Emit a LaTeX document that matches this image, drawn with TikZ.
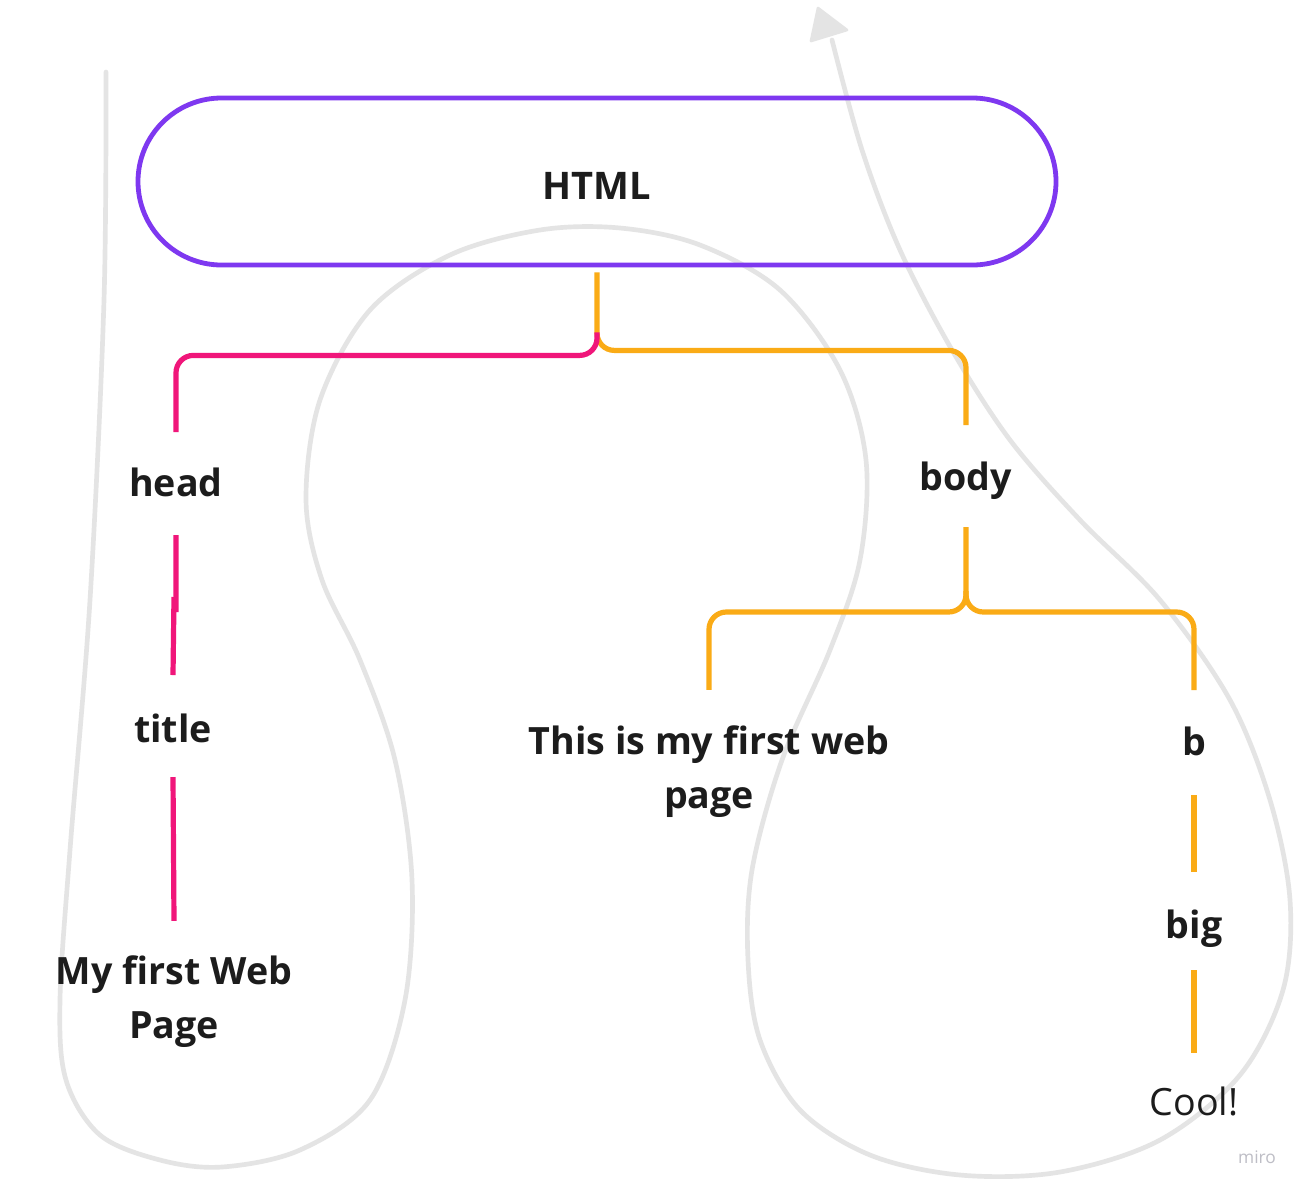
\documentclass[tikz,border=0pt]{standalone}
\usepackage{fontspec}
\setmainfont{Open Sans}
\usetikzlibrary{calc,shapes.misc}
\definecolor{pillpurple}{RGB}{126,56,240}
\definecolor{linkpink}{RGB}{240,22,122}
\definecolor{linkyellow}{RGB}{250,171,22}
\definecolor{sketchgrey}{RGB}{228,228,228}
\definecolor{inkdark}{RGB}{28,28,28}
\definecolor{wmgrey}{RGB}{190,190,198}
\tikzset{
  x=0.75pt, y=-0.75pt,
  lbl/.style={inner sep=0pt, text=inkdark, font=\fontsize{28.2}{40.5}\selectfont\bfseries,
              text height=0.75em, text depth=0.25em},
  mlbl/.style={inner sep=0pt, text=inkdark, font=\fontsize{28.2}{40.5}\selectfont\bfseries, align=center},
  pillbox/.style={rounded rectangle, draw=pillpurple, line width=3.6pt,
              minimum width=688.5pt, minimum height=125.25pt, inner sep=0pt,
              text=inkdark, font=\fontsize{28.5}{34}\selectfont\bfseries,
              text height=2.7em, text depth=0em},
  pinkline/.style={draw=linkpink, line width=3.9pt, rounded corners=13pt},
  yelline/.style={draw=linkyellow, line width=3.9pt, rounded corners=13pt},
  freehand/.style={draw=sketchgrey, line width=3.5pt, line cap=round, line join=round},
}
\begin{document}
\begin{tikzpicture}
\useasboundingbox (0,0) rectangle (1308,1193);
\fill[white] (0,0) rectangle (1308,1193);

% freehand background stroke
\draw[freehand] plot[smooth, tension=0.55] coordinates {
  (106,72) (104,300) (90,600) (70,850) (60,1000) (66,1080) (100,1135) (160,1160)
  (222,1167) (300,1150) (370,1100) (405,1000) (412,880) (395,760) (360,660)
  (322,580) (306,500) (320,400) (370,310) (450,255) (540,230) (620,228)
  (700,245) (780,290) (840,370) (866,460) (860,560) (830,650) (782,760)
  (752,870) (748,960) (760,1040) (800,1110) (870,1155) (960,1175) (1060,1172)
  (1160,1140) (1240,1075) (1283,990) (1290,900) (1270,800) (1230,700)
  (1160,600) (1080,520) (1010,440) (952,350) (900,250) (862,150) (832,40)};
\fill[sketchgrey, draw=sketchgrey, line width=2pt, line join=round]
  (818,8) -- (811,41) -- (847,30) -- cycle;

% nodes
\node[pillbox] (html) at (597,181.5) {HTML};
\node[lbl] (head) at (176,493) {head};
\node[lbl] (title) at (173,739) {title};
\node[mlbl] (mypage) at (174,1002) {My first Web\\Page};
\node[lbl] (body) at (966,487) {body};
\node[mlbl] (firstweb) at (709,772) {This is my first web\\page};
\node[lbl] (b) at (1194,752) {b};
\node[lbl] (big) at (1194,935) {big};
\node[lbl, font=\fontsize{28.2}{40.5}\selectfont] (cool) at (1194,1112) {Cool!};
\node[inner sep=0pt, text=wmgrey, font=\fontsize{13}{15}\selectfont] (miro) at (1257,1157) {miro};

% connectors
\draw[yelline] ($(html.south)+(0,5)$) -- ++(0,78) -| ($(body.center)+(0,-62)$);
\draw[pinkline] ($(html.south)+(0,65)$) -- ++(0,23) -| ($(head.center)+(0,-61)$);
\draw[pinkline] ($(head.center)+(0,42)$) -- ++(0,77) ++(-2,-15) -- ($(title.center)+(0,-64)$);
\draw[pinkline] ($(title.center)+(0,38)$) -- ($(mypage.north)+(0,-35)$);
\draw[yelline] ($(body.center)+(0,40)$) -- ++(0,85) -| ($(firstweb.north)+(0,-36)$);
\draw[yelline] ($(body.center)+(0,104)$) -- ++(0,21) -| ($(b.center)+(0,-62)$);
\draw[yelline] ($(b.center)+(0,43)$) -- ($(big.center)+(0,-63)$);
\draw[yelline] ($(big.center)+(0,35)$) -- ($(cool.center)+(0,-59)$);
\end{tikzpicture}
\end{document}
